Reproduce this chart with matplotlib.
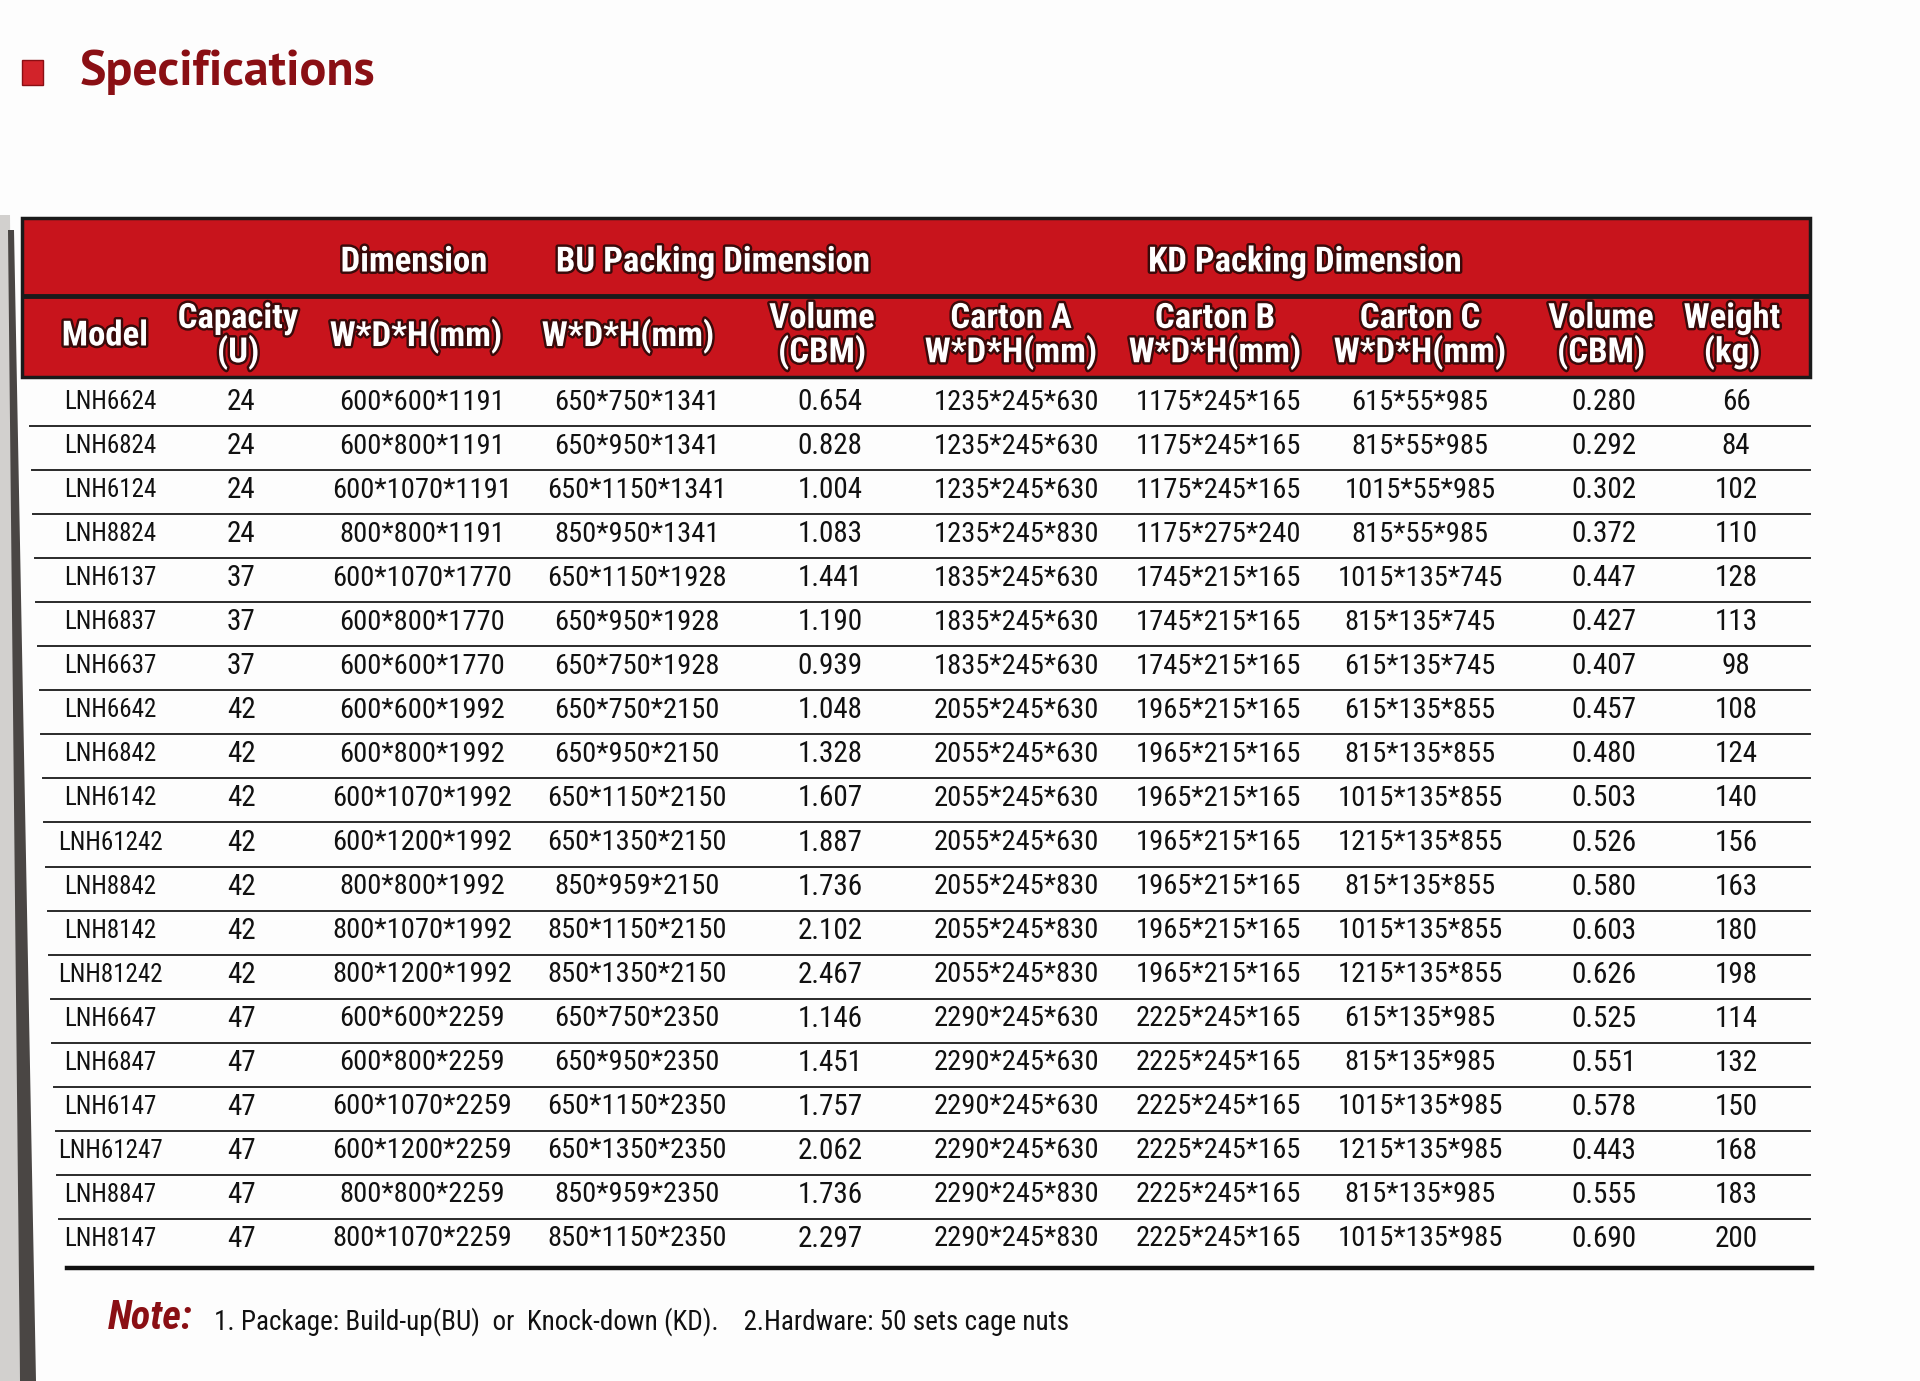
import matplotlib
matplotlib.use("Agg")
import matplotlib.pyplot as plt
from matplotlib import font_manager
from matplotlib.patches import Rectangle, Polygon
import matplotlib.patheffects as pe

# ---------------- data ----------------
models = ["LNH6624", "LNH6824", "LNH6124", "LNH8824", "LNH6137", "LNH6837", "LNH6637",
          "LNH6642", "LNH6842", "LNH6142", "LNH61242", "LNH8842", "LNH8142", "LNH81242",
          "LNH6647", "LNH6847", "LNH6147", "LNH61247", "LNH8847", "LNH8147"]
capacity = ["24", "24", "24", "24", "37", "37", "37", "42", "42", "42", "42", "42", "42", "42",
            "47", "47", "47", "47", "47", "47"]
dimension = ["600*600*1191", "600*800*1191", "600*1070*1191", "800*800*1191",
             "600*1070*1770", "600*800*1770", "600*600*1770",
             "600*600*1992", "600*800*1992", "600*1070*1992", "600*1200*1992",
             "800*800*1992", "800*1070*1992", "800*1200*1992",
             "600*600*2259", "600*800*2259", "600*1070*2259", "600*1200*2259",
             "800*800*2259", "800*1070*2259"]
bu_dim = ["650*750*1341", "650*950*1341", "650*1150*1341", "850*950*1341",
          "650*1150*1928", "650*950*1928", "650*750*1928",
          "650*750*2150", "650*950*2150", "650*1150*2150", "650*1350*2150",
          "850*959*2150", "850*1150*2150", "850*1350*2150",
          "650*750*2350", "650*950*2350", "650*1150*2350", "650*1350*2350",
          "850*959*2350", "850*1150*2350"]
bu_vol = ["0.654", "0.828", "1.004", "1.083", "1.441", "1.190", "0.939",
          "1.048", "1.328", "1.607", "1.887", "1.736", "2.102", "2.467",
          "1.146", "1.451", "1.757", "2.062", "1.736", "2.297"]
carton_a = ["1235*245*630", "1235*245*630", "1235*245*630", "1235*245*830",
            "1835*245*630", "1835*245*630", "1835*245*630",
            "2055*245*630", "2055*245*630", "2055*245*630", "2055*245*630",
            "2055*245*830", "2055*245*830", "2055*245*830",
            "2290*245*630", "2290*245*630", "2290*245*630", "2290*245*630",
            "2290*245*830", "2290*245*830"]
carton_b = ["1175*245*165", "1175*245*165", "1175*245*165", "1175*275*240",
            "1745*215*165", "1745*215*165", "1745*215*165",
            "1965*215*165", "1965*215*165", "1965*215*165", "1965*215*165",
            "1965*215*165", "1965*215*165", "1965*215*165",
            "2225*245*165", "2225*245*165", "2225*245*165", "2225*245*165",
            "2225*245*165", "2225*245*165"]
carton_c = ["615*55*985", "815*55*985", "1015*55*985", "815*55*985",
            "1015*135*745", "815*135*745", "615*135*745",
            "615*135*855", "815*135*855", "1015*135*855", "1215*135*855",
            "815*135*855", "1015*135*855", "1215*135*855",
            "615*135*985", "815*135*985", "1015*135*985", "1215*135*985",
            "815*135*985", "1015*135*985"]
kd_vol = ["0.280", "0.292", "0.302", "0.372", "0.447", "0.427", "0.407",
          "0.457", "0.480", "0.503", "0.526", "0.580", "0.603", "0.626",
          "0.525", "0.551", "0.578", "0.443", "0.555", "0.690"]
weight = ["66", "84", "102", "110", "128", "113", "98", "108", "124", "140", "156",
          "163", "180", "198", "114", "132", "150", "168", "183", "200"]

group_headers = ["Dimension", "BU Packing Dimension", "KD Packing Dimension"]
col_headers = ["Model", "Capacity\n(U)", "W*D*H(mm)", "W*D*H(mm)", "Volume\n(CBM)",
               "Carton A\nW*D*H(mm)", "Carton B\nW*D*H(mm)", "Carton C\nW*D*H(mm)",
               "Volume\n(CBM)", "Weight\n(kg)"]
title = "Specifications"
note_label = "Note:"
note_text = "1. Package: Build-up(BU)  or  Knock-down (KD).    2.Hardware: 50 sets cage nuts"

columns = [models, capacity, dimension, bu_dim, bu_vol, carton_a, carton_b, carton_c, kd_vol, weight]

# ---------------- fonts ----------------
avail = {f.name for f in font_manager.fontManager.ttflist}


def pick(*names):
    for n in names:
        if n in avail:
            return n
    return "DejaVu Sans"


COND = pick("Roboto Condensed", "Archivo Narrow", "PT Sans Narrow", "Liberation Sans")
TITLE_FONT = pick("PT Sans", "Fira Sans", "Liberation Sans")

# ---------------- layout ----------------
W, H = 1920, 1381
fig = plt.figure(figsize=(W / 100, H / 100), dpi=100)
ax = fig.add_axes([0, 0, 1, 1])
ax.set_xlim(0, W)
ax.set_ylim(H, 0)
ax.axis("off")
fig.patch.set_facecolor("#fdfdfd")

RED = "#c8141c"
DARK_RED = "#8a0f14"

# binding shadow at left edge (photo)
ax.add_patch(Polygon([[0, 215], [10, 215], [20, H], [0, H]], closed=True,
                     facecolor="#d2d0ce", edgecolor="none"))
ax.add_patch(Polygon([[8, 230], [14, 230], [36, H], [20, H]], closed=True,
                     facecolor="#4a4644", edgecolor="none"))

# title
ax.add_patch(Rectangle((22, 60), 21, 25, facecolor="#d2232a", edgecolor="#8a0f14", lw=1))
ax.text(80, 72, title, fontsize=36, fontweight="bold", color=DARK_RED,
        family=TITLE_FONT, ha="left", va="center")

# header block
x0, x1 = 22, 1810
hy0, hsep, hy1 = 218, 296, 377
ax.add_patch(Rectangle((x0, hy0), x1 - x0, hy1 - hy0, facecolor=RED, edgecolor="#1a1a1a", lw=2.5))
ax.plot([x0, x1], [hsep, hsep], color="#1a1a1a", lw=3.5, solid_capstyle="butt")

stroke = [pe.withStroke(linewidth=3.5, foreground="#3a0a0a")]
group_x = [414, 713, 1305]
for gx, gh in zip(group_x, group_headers):
    ax.text(gx, 262, gh, fontsize=25, fontweight="bold", color="white", family=COND,
            ha="center", va="center", path_effects=stroke)

hdr_x = [105, 238, 416, 628, 822, 1011, 1215, 1420, 1601, 1732]
for hx, hl in zip(hdr_x, col_headers):
    ax.text(hx, 336, hl, fontsize=25, fontweight="bold", color="white", family=COND,
            ha="center", va="center", linespacing=0.98, path_effects=stroke)

# body
col_x = [110, 241, 422, 637, 830, 1016, 1218, 1420, 1604, 1736]
col_fs = [18, 21, 20.5, 20.5, 21, 20.5, 20.5, 20.5, 21, 21]
row0, dy = 402, 44.05
n = len(models)
for i in range(n):
    y = row0 + i * dy
    for cx, col, fs in zip(col_x, columns, col_fs):
        ax.text(cx, y, col[i], fontsize=fs, color="#111111", family=COND,
                ha="center", va="center")
    if i < n - 1:
        ly = y + dy / 2 + 2
        ax.plot([30 + i * 1.6, x1], [ly, ly], color="#2a2a2a", lw=1.4)

# bottom rule
by = row0 + (n - 1) * dy + 29
ax.plot([67, 1812], [by, by], color="#111111", lw=3.2)

# note
ax.text(108, 1318, note_label, fontsize=29, fontweight="bold", fontstyle="italic",
        color=DARK_RED, family=COND, ha="left", va="center")
ax.text(214, 1322, note_text, fontsize=19.5, color="#111111", family=COND,
        ha="left", va="center")

fig.savefig("out.png", dpi=100, facecolor=fig.get_facecolor())
